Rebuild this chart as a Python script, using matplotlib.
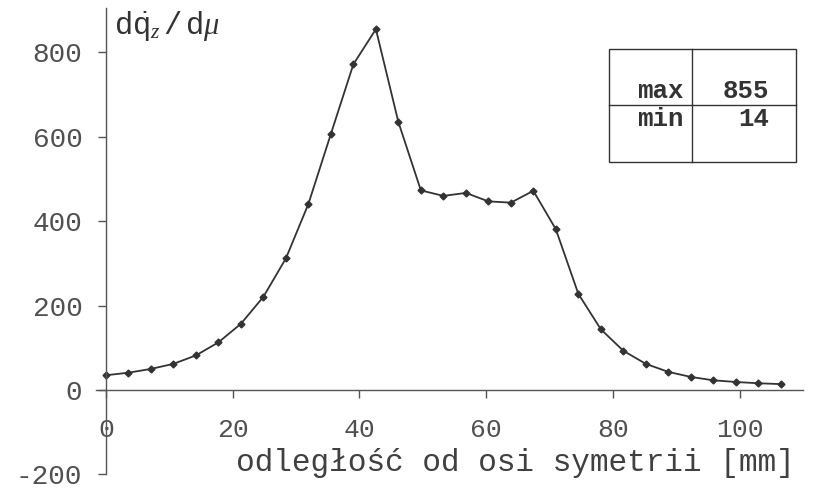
import matplotlib
matplotlib.use("Agg")
import matplotlib.pyplot as plt
from matplotlib.patches import Rectangle
from matplotlib.lines import Line2D

plt.rcParams['font.family'] = ['Liberation Mono', 'DejaVu Sans Mono']
plt.rcParams['mathtext.fontset'] = 'custom'
plt.rcParams['mathtext.rm'] = 'Liberation Mono'
plt.rcParams['mathtext.it'] = 'Liberation Serif:italic'
plt.rcParams['axes.unicode_minus'] = False

# Data
step = 3.55
values = [35, 41, 50, 62, 82, 113, 157, 221, 312, 441, 607, 772, 855, 635,
          473, 460, 467, 447, 444, 472, 381, 228, 144, 93, 62, 43, 31, 23,
          19, 16, 14]
distance = [i * step for i in range(len(values))]
xticks = [0, 20, 40, 60, 80, 100]
yticks = [-200, 0, 200, 400, 600, 800]
stats_labels = ["max", "min"]
stats_values = ["855", "14"]

W, H = 829, 491
fig = plt.figure(figsize=(W / 100, H / 100), dpi=100)
ax = fig.add_axes([96.5 / W, (H - 474.4) / H, 706.4 / W, 466.3 / H])
ax.set_xlim(-1.5, 110)
ax.set_ylim(-200, 905)

ink = '#333333'
ax.plot(distance, values, color=ink, lw=1.3, marker='D', ms=3.5,
        mfc=ink, mec=ink)

for s in ['top', 'right']:
    ax.spines[s].set_visible(False)
ax.spines['left'].set_position(('data', 0))
ax.spines['bottom'].set_position(('data', 0))
ax.spines['left'].set_bounds(-200, 905)
for s in ['left', 'bottom']:
    ax.spines[s].set_color('#555555')
    ax.spines[s].set_linewidth(1.0)

ax.set_xticks(xticks)
ax.set_xticklabels([str(t) for t in xticks])
ax.set_yticks(yticks)
ax.set_yticklabels([str(t) for t in yticks])
ax.tick_params(axis='x', direction='out', length=6, width=1, color='#555555',
               pad=14, labelsize=19, labelcolor='#505050')
ax.tick_params(axis='y', direction='out', length=6, width=1, color='#555555',
               pad=11, labelsize=20, labelcolor='#505050')

ax.text(795 / W, (H - 463) / H, "odległość od osi symetrii [mm]",
        transform=fig.transFigure, ha='right', va='center', fontsize=22.4,
        color='#404040')
ax.text(114 / W, (H - 26) / H, r'$\mathrm{d}\dot{\mathrm{q}}_{z}\,/\,\mathrm{d}\mu$',
        transform=fig.transFigure, ha='left', va='center', fontsize=22,
        color='#333333')

# table box
tx0, tx1, txm = 609, 796, 692
ty0, ty1, tym = 49, 162, 105
def fx(p):
    return p / W
def fy(p):
    return (H - p) / H
fig.add_artist(Rectangle((fx(tx0), fy(ty1)), fx(tx1) - fx(tx0), fy(ty0) - fy(ty1),
                         transform=fig.transFigure, fill=False, ec='#333333', lw=1.0))
fig.add_artist(Line2D([fx(txm), fx(txm)], [fy(ty1), fy(ty0)], transform=fig.transFigure,
                      color='#333333', lw=1.0))
fig.add_artist(Line2D([fx(tx0), fx(tx1)], [fy(tym), fy(tym)], transform=fig.transFigure,
                      color='#333333', lw=1.0))
row_y = [91, 119]
for lab, val, yy in zip(stats_labels, stats_values, row_y):
    fig.text(fx(684), fy(yy), lab, ha='right', va='center', fontsize=18.5,
             fontweight='bold', color='#333333')
    fig.text(fx(769), fy(yy), val, ha='right', va='center', fontsize=18.5,
             fontweight='bold', color='#333333')

fig.savefig("out.png", dpi=100)
